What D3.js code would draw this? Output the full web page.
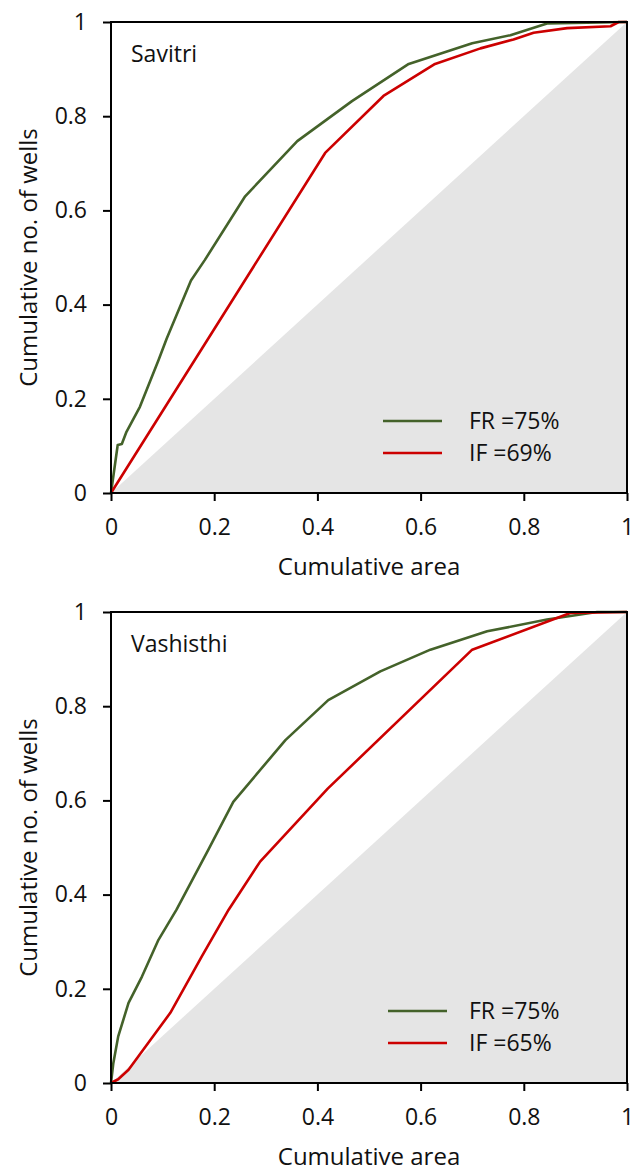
<!DOCTYPE html>
<html>
<head>
<meta charset="utf-8">
<script src="https://cdn.jsdelivr.net/npm/d3@7"></script>
<style>
  body { margin: 0; background: #ffffff; }
  text { font-family: "Open Sans", "Noto Sans", sans-serif; fill: #111; }
</style>
</head>
<body>
<div id="chart"></div>
<script>
// tick values shared by both panels
let tick_values = [0, 0.2, 0.4, 0.6, 0.8, 1];

// Savitri
let savitri_fr_x = [0, 0.013, 0.021, 0.030, 0.056, 0.092, 0.108, 0.155, 0.182, 0.26, 0.361, 0.467, 0.577, 0.70, 0.774, 0.845, 1];
let savitri_fr_y = [0, 0.102, 0.104, 0.130, 0.183, 0.282, 0.328, 0.451, 0.495, 0.630, 0.747, 0.832, 0.911, 0.955, 0.972, 0.997, 1];
let savitri_if_x = [0, 0.415, 0.528, 0.628, 0.716, 0.78, 0.819, 0.884, 0.968, 0.984, 1];
let savitri_if_y = [0, 0.722, 0.843, 0.911, 0.944, 0.963, 0.977, 0.987, 0.991, 1, 1];

// Vashisthi
let vashisthi_fr_x = [0, 0.0045, 0.014, 0.034, 0.060, 0.092, 0.127, 0.189, 0.237, 0.338, 0.421, 0.522, 0.619, 0.729, 0.845, 0.942, 1];
let vashisthi_fr_y = [0, 0.042, 0.099, 0.170, 0.226, 0.304, 0.368, 0.496, 0.597, 0.728, 0.813, 0.874, 0.920, 0.959, 0.984, 1, 1];
let vashisthi_if_x = [0, 0.014, 0.034, 0.072, 0.115, 0.176, 0.228, 0.289, 0.42, 0.70, 0.89, 1];
let vashisthi_if_y = [0, 0.008, 0.028, 0.085, 0.149, 0.269, 0.368, 0.470, 0.625, 0.920, 0.998, 1];

let panels = [
    {name: 'Savitri', top: 22, fr: [savitri_fr_x, savitri_fr_y], inf: [savitri_if_x, savitri_if_y], labels: ['FR =75%', 'IF =69%'], legend_x: 272},
    {name: 'Vashisthi', top: 612, fr: [vashisthi_fr_x, vashisthi_fr_y], inf: [vashisthi_if_x, vashisthi_if_y], labels: ['FR =75%', 'IF =65%'], legend_x: 277}
];

let width = 640, height = 1172;
let left = 111, right = 627, plot_h = 471;
let green = '#44622a', red = '#cc0000';

let svg = d3.select('#chart').append('svg')
    .attr('width', width)
    .attr('height', height);

function to_points(pair){
    return pair[0].map((v, i) => [v, pair[1][i]]);
}

function draw_panel(p){
    let x = d3.scaleLinear().domain([0, 1]).range([left, right]);
    let y = d3.scaleLinear().domain([0, 1]).range([p.top + plot_h, p.top]);
    let g = svg.append('g');

    // grey area under the line of equality
    g.append('path')
        .datum([[0, 0], [1, 0], [1, 1]])
        .attr('fill', '#e5e5e5')
        .attr('d', d3.line().x(d => x(d[0])).y(d => y(d[1])));

    let line = d3.line().x(d => x(d[0])).y(d => y(d[1]));

    g.append('path')
        .datum(to_points(p.fr))
        .attr('fill', 'none')
        .attr('stroke', green)
        .attr('stroke-width', 2.6)
        .attr('stroke-linejoin', 'round')
        .attr('d', line);

    g.append('path')
        .datum(to_points(p.inf))
        .attr('fill', 'none')
        .attr('stroke', red)
        .attr('stroke-width', 2.6)
        .attr('stroke-linejoin', 'round')
        .attr('d', line);

    // frame
    g.append('rect')
        .attr('x', x(0)).attr('y', y(1))
        .attr('width', x(1) - x(0)).attr('height', y(0) - y(1))
        .attr('fill', 'none')
        .attr('stroke', '#000')
        .attr('stroke-width', 2);

    let xAxis = g.append('g')
        .attr('transform', `translate(0,${y(0)})`)
        .call(d3.axisBottom(x).tickValues(tick_values).tickFormat(d3.format('~g')).tickSize(8).tickPadding(18));
    let yAxis = g.append('g')
        .attr('transform', `translate(${x(0)},0)`)
        .call(d3.axisLeft(y).tickValues(tick_values).tickFormat(d3.format('~g')).tickSize(8).tickPadding(16));

    [xAxis, yAxis].forEach(a => {
        a.select('.domain').remove();
        a.selectAll('line').attr('stroke', '#000').attr('stroke-width', 2);
        a.selectAll('text')
            .attr('font-family', '"Open Sans", sans-serif')
            .attr('font-size', 23)
            .attr('fill', '#111');
    });

    // panel name
    g.append('text')
        .attr('x', x(0) + 20)
        .attr('y', y(1) + 40)
        .attr('font-size', 23)
        .text(p.name);

    // axis titles
    g.append('text')
        .attr('x', (x(0) + x(1)) / 2)
        .attr('y', y(0) + 82)
        .attr('text-anchor', 'middle')
        .attr('font-size', 24)
        .text('Cumulative area');

    g.append('text')
        .attr('transform', `translate(37,${(y(0) + y(1)) / 2}) rotate(-90)`)
        .attr('text-anchor', 'middle')
        .attr('font-size', 24)
        .text('Cumulative no. of wells');

    // legend
    let colors = [green, red];
    let ly = [y(0) - 72, y(0) - 40];
    p.labels.forEach((lab, i) => {
        g.append('line')
            .attr('x1', p.legend_x + 111).attr('x2', p.legend_x + 170)
            .attr('y1', ly[i]).attr('y2', ly[i])
            .attr('stroke', colors[i])
            .attr('stroke-width', 2.6);
        g.append('text')
            .attr('x', 469)
            .attr('y', ly[i] + 8)
            .attr('font-size', 23)
            .text(lab);
    });
}

panels.forEach(draw_panel);
</script>
</body>
</html>
